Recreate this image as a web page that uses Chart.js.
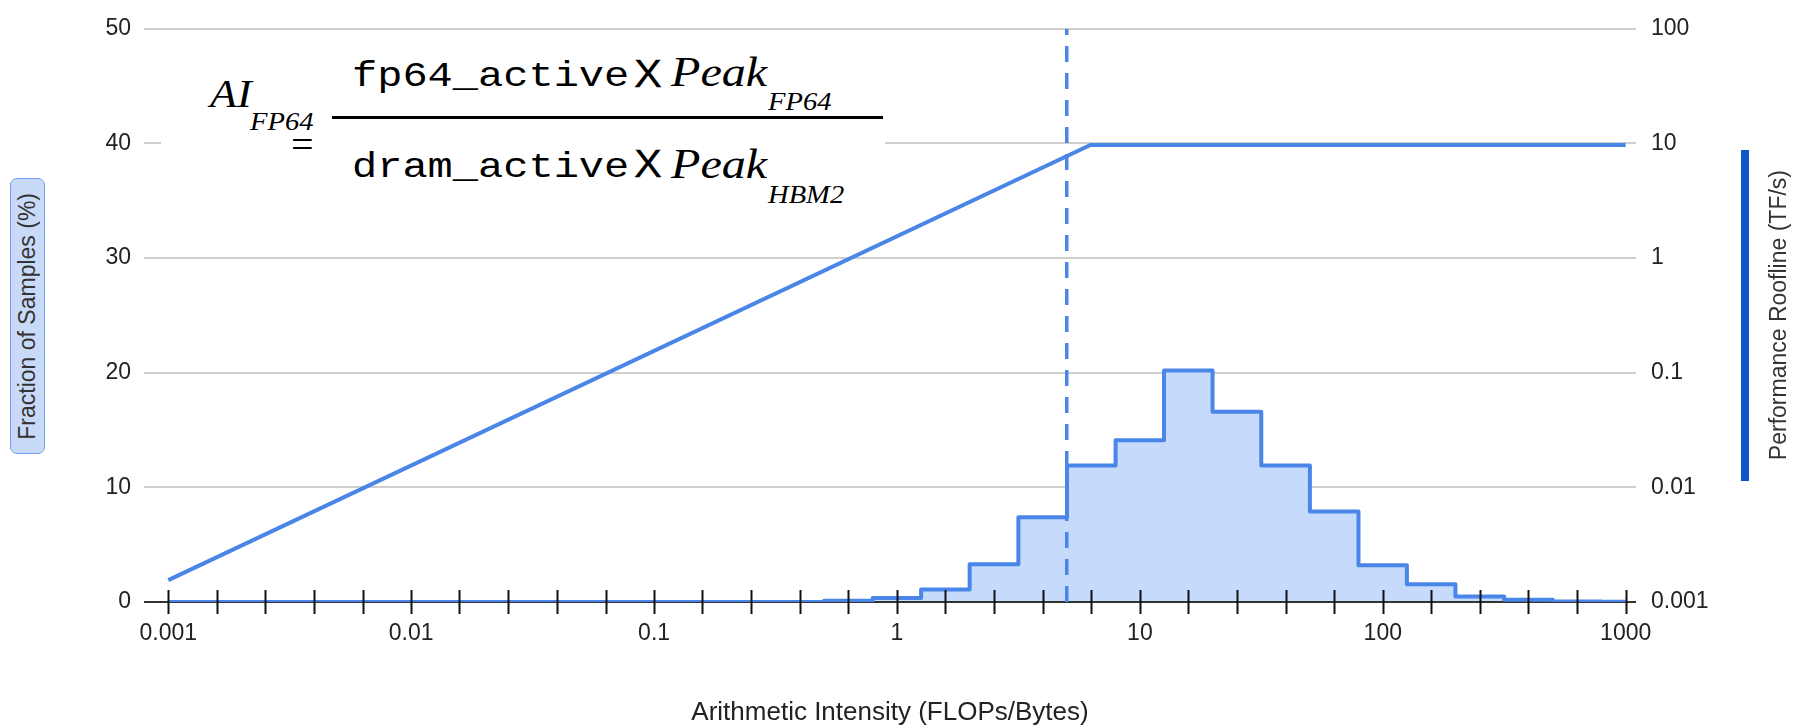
<!DOCTYPE html>
<html>
<head>
<meta charset="utf-8">
<script src="https://cdn.jsdelivr.net/npm/chart.js@4.4.1/dist/chart.umd.min.js"></script>
<style>
  body { margin: 0; background: #fff; }
  #wrap { position: relative; width: 1798px; height: 727px; background: #fff; overflow: hidden; }
  #chart { position: absolute; left: 0; top: 0; }
  .f { position: absolute; line-height: 1; white-space: nowrap; transform-origin: 0 0; color: #000; }
  .serif { font-family: 'Liberation Serif', 'Times New Roman', serif; }
  .it { font-style: italic; }
  .mono { font-family: 'Liberation Mono', 'Courier New', monospace; }
  .sans { font-family: 'Liberation Sans', Arial, sans-serif; -webkit-text-stroke: 0.3px #000; }
  #formulaBg { position: absolute; left: 161px; top: 32px; width: 724px; height: 190px; background: #fff; }
  #fracLine { position: absolute; left: 332px; top: 116px; width: 551px; height: 3px; background: #000; }
  #leftTitle {
    position: absolute; left: 10px; top: 178px; width: 33px; height: 274px;
    background: #c9daf8; border: 1.5px solid #6d9eeb; border-radius: 7px;
    display: flex; align-items: center; justify-content: center;
  }
  #leftTitle span, #rightTitle span {
    writing-mode: vertical-rl; transform: rotate(180deg);
    font-family: 'Liberation Sans', Arial, sans-serif; font-size: 23px; color: #333; white-space: nowrap;
  }
  #rightBar { position: absolute; left: 1741px; top: 150px; width: 8px; height: 331px; background: #1155cc; }
  #rightTitle { position: absolute; left: 1762px; top: 160px; width: 32px; height: 310px;
    display: flex; align-items: center; justify-content: center; }
</style>
</head>
<body>
<div id="wrap">
  <canvas id="chart" width="1798" height="727"></canvas>

  <!-- arithmetic intensity definition -->
  <div id="formulaBg"></div>
  <span class="f serif it" style="font-size:40px;left:210px;top:74px;transform:scaleX(1.1)">AI</span>
  <span class="f serif it" style="font-size:26px;left:250px;top:109px;transform:scaleX(1.1)">FP64</span>
  <span class="f serif" style="font-size:40px;left:291px;top:125px">=</span>
  <div id="fracLine"></div>
  <span class="f mono" style="font-size:35px;left:352px;top:60px;transform:scaleX(1.2)">fp64_active</span>
  <span class="f sans" style="font-size:38px;left:634px;top:55px;transform:scaleX(1.1)">X</span>
  <span class="f serif it" style="font-size:43px;left:671px;top:50px;transform:scaleX(1.12)">Peak</span>
  <span class="f serif it" style="font-size:26px;left:768px;top:89px;transform:scaleX(1.1)">FP64</span>
  <span class="f mono" style="font-size:35px;left:352px;top:151px;transform:scaleX(1.2)">dram_active</span>
  <span class="f sans" style="font-size:38px;left:634px;top:145px;transform:scaleX(1.1)">X</span>
  <span class="f serif it" style="font-size:43px;left:671px;top:142px;transform:scaleX(1.12)">Peak</span>
  <span class="f serif it" style="font-size:26px;left:768px;top:182px;transform:scaleX(1.1)">HBM2</span>

  <div id="leftTitle"><span>Fraction of Samples (%)</span></div>
  <div id="rightBar"></div>
  <div id="rightTitle"><span>Performance Roofline (TF/s)</span></div>
</div>

<script>
// AI bins (FLOPs/Byte), five per decade
var aiBins = [0.001, 0.00158, 0.00251, 0.00398, 0.00631,
              0.01, 0.0158, 0.0251, 0.0398, 0.0631,
              0.1, 0.158, 0.251, 0.398, 0.631,
              1, 1.58, 2.51, 3.98, 6.31,
              10, 15.8, 25.1, 39.8, 63.1,
              100, 158, 251, 398, 631,
              1000];
// % of samples falling in each bin
var samplePct = [0, 0, 0, 0, 0,
                 0, 0, 0, 0, 0,
                 0, 0, 0, 0, 0.1,
                 0.35, 1.1, 3.3, 7.4, 11.9,
                 14.1, 20.2, 16.6, 11.9, 7.9,
                 3.2, 1.55, 0.47, 0.2, 0.05,
                 0.02];
var aiLabels = ["0.001", "0.01", "0.1", "1", "10", "100", "1000"];

// roofline: bandwidth slope then FP64 peak
var roofAI = [0.001, 6.26, 1000];
var roofTF = [0.00155, 9.7, 9.7];

var meanAI = 5;

var fracTicks = [0, 10, 20, 30, 40, 50];
var perfTicks = [0.001, 0.01, 0.1, 1, 10, 100];
var perfLabels = ["0.001", "0.01", "0.1", "1", "10", "100"];

var blue = "#4a86e8";
var tickFont = { size: 23 };

var histData = [];
aiBins.forEach(function (x, i) {
    histData.push({ x: x, y: samplePct[i] });
});
var roofData = [];
roofAI.forEach(function (x, i) {
    roofData.push({ x: x, y: roofTF[i] });
});

// black baseline and tick marks crossing it
var axisMarks = {
    id: "axisMarks",
    beforeDatasetsDraw: function (chart) {
        var ctx = chart.ctx, a = chart.chartArea;
        ctx.save();
        ctx.strokeStyle = "#333";
        ctx.lineWidth = 2;
        ctx.beginPath();
        ctx.moveTo(a.left, a.bottom);
        ctx.lineTo(a.right, a.bottom);
        ctx.stroke();
        ctx.restore();
    },
    afterDatasetsDraw: function (chart) {
        var ctx = chart.ctx, a = chart.chartArea, xs = chart.scales.x;
        ctx.save();
        ctx.strokeStyle = "#111";
        ctx.lineWidth = 2;
        xs.ticks.forEach(function (t) {
            var px = Math.round(xs.getPixelForValue(t.value)) + 0.5;
            ctx.beginPath();
            ctx.moveTo(px, a.bottom - 12);
            ctx.lineTo(px, a.bottom + 12);
            ctx.stroke();
        });
        ctx.restore();
    }
};

Chart.defaults.font.family = "'Liberation Sans', Arial, sans-serif";
Chart.defaults.color = "#222";

var ctx = document.getElementById("chart").getContext("2d");
var chart = new Chart(ctx, {
    type: "line",
    data: {
        datasets: [
            {
                label: "Mean AI",
                data: [{ x: meanAI, y: 0 }, { x: meanAI, y: 50 }],
                borderColor: blue,
                borderWidth: 3.5,
                borderDash: [16, 11],
                pointRadius: 0,
                fill: false,
                yAxisID: "y"
            },
            {
                label: "Roofline",
                data: roofData,
                borderColor: blue,
                borderWidth: 4,
                pointRadius: 0,
                fill: false,
                yAxisID: "y2"
            },
            {
                label: "Samples",
                data: histData,
                stepped: "middle",
                borderColor: blue,
                borderWidth: 4,
                borderJoinStyle: "round",
                backgroundColor: "#c6dafc",
                pointRadius: 0,
                fill: "origin",
                yAxisID: "y"
            }
        ]
    },
    options: {
        responsive: false,
        animation: false,
        devicePixelRatio: 1,
        layout: { padding: { top: 21, left: 0, right: 0, bottom: 0 } },
        plugins: {
            legend: { display: false },
            tooltip: { enabled: false },
            filler: { drawTime: "beforeDatasetsDraw" }
        },
        scales: {
            x: {
                type: "logarithmic",
                min: Math.pow(10, -3.1),
                max: Math.pow(10, 3.0425),
                afterBuildTicks: function (scale) {
                    scale.ticks = aiBins.map(function (v) { return { value: v }; });
                },
                afterFit: function (scale) { scale.height = 125; },
                ticks: {
                    autoSkip: false,
                    maxRotation: 0,
                    padding: 18,
                    font: tickFont,
                    callback: function (v, i) {
                        return i % 5 === 0 ? aiLabels[i / 5] : "";
                    }
                },
                grid: { display: false, drawTicks: false },
                border: { display: false },
                title: {
                    display: true,
                    text: "Arithmetic Intensity (FLOPs/Bytes)",
                    font: { size: 26, lineHeight: 1.1 },
                    color: "#222",
                    padding: { top: 0, bottom: 0 }
                }
            },
            y: {
                type: "linear",
                position: "left",
                min: 0,
                max: 50,
                afterBuildTicks: function (scale) {
                    scale.ticks = fracTicks.map(function (v) { return { value: v }; });
                },
                afterFit: function (scale) { scale.width = 144; },
                ticks: { padding: 13, font: tickFont },
                grid: {
                    drawTicks: false,
                    lineWidth: 2,
                    color: function (c) { return c.tick && c.tick.value === 0 ? "rgba(0,0,0,0)" : "#cfcfcf"; }
                },
                border: { display: false }
            },
            y2: {
                type: "logarithmic",
                position: "right",
                min: 0.001,
                max: 100,
                afterBuildTicks: function (scale) {
                    scale.ticks = perfTicks.map(function (v) { return { value: v }; });
                },
                afterFit: function (scale) { scale.width = 162; },
                ticks: {
                    padding: 15,
                    font: tickFont,
                    callback: function (v, i) { return perfLabels[i]; }
                },
                grid: { drawOnChartArea: false, drawTicks: false },
                border: { display: false }
            }
        }
    },
    plugins: [axisMarks]
});
</script>
</body>
</html>
